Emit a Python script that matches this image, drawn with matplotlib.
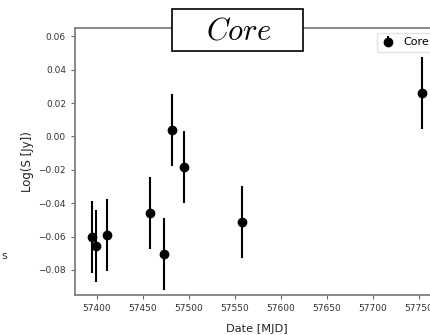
import matplotlib
matplotlib.use("Agg")
import matplotlib.pyplot as plt
from matplotlib.patches import Rectangle

plt.rcParams['mathtext.fontset'] = 'cm'

# MJD dates and log flux of the core component
mjd = [57394.2, 57399.2, 57411.2, 57457.3, 57473.2, 57481.8, 57494.2, 57557.6, 57753.6]
log_s = [-0.0602, -0.0658, -0.0590, -0.0459, -0.0704, 0.0038, -0.0183, -0.0512, 0.0260]
log_s_err = [0.0217, 0.0215, 0.0218, 0.0216, 0.0216, 0.0216, 0.0217, 0.0216, 0.0216]

x_ticks = [57400, 57450, 57500, 57550, 57600, 57650, 57700, 57750]
y_ticks = [-0.08, -0.06, -0.04, -0.02, 0.00, 0.02, 0.04, 0.06]

fig = plt.figure(figsize=(4.31, 3.35), dpi=100)
# axes run past the right edge of the picture, like the cropped original
ax = fig.add_axes([75 / 431, 40 / 335, 364 / 431, 267 / 335])

ax.errorbar(mjd, log_s, yerr=log_s_err, fmt='o', color='black', ms=6,
            elinewidth=1.5, capsize=0, label='Core')

ax.set_xlim(57376, 57772)
ax.set_ylim(-0.095, 0.065)
ax.set_xticks(x_ticks)
ax.set_yticks(y_ticks)
ax.set_xticklabels([str(t) for t in x_ticks])
ax.set_yticklabels([f'{t:.2f}'.replace('-', '\u2212') for t in y_ticks])
ax.tick_params(labelsize=6.5, colors='#333333', length=3, width=0.8)
ax.tick_params(axis='both', color='#666666')
for sp in ax.spines.values():
    sp.set_color('#808080')
    sp.set_linewidth(1.3)

ax.set_xlabel('Date [MJD]', fontsize=8.2, color='#222222', labelpad=8)
ax.set_ylabel('Log(S [Jy])', fontsize=8.5, color='#222222', labelpad=3)

leg = ax.legend(loc='upper right', fontsize=8, frameon=True, handlelength=1.2,
                borderaxespad=0.45)
leg.get_frame().set_edgecolor('#dddddd')

# boxed title sitting on the top spine
box = Rectangle((0.2665, 0.915), 0.36, 0.155, transform=ax.transAxes,
                facecolor='white', edgecolor='black', linewidth=1.2,
                clip_on=False, zorder=5)
ax.add_patch(box)
ax.text(0.449, 0.99, r'$Core$', transform=ax.transAxes, fontsize=22,
        ha='center', va='center', zorder=6)

# stray label from the neighbouring panel
fig.text(0.004, 0.228, 's', fontsize=8, color='#333333')

fig.savefig('out.png', dpi=100)
